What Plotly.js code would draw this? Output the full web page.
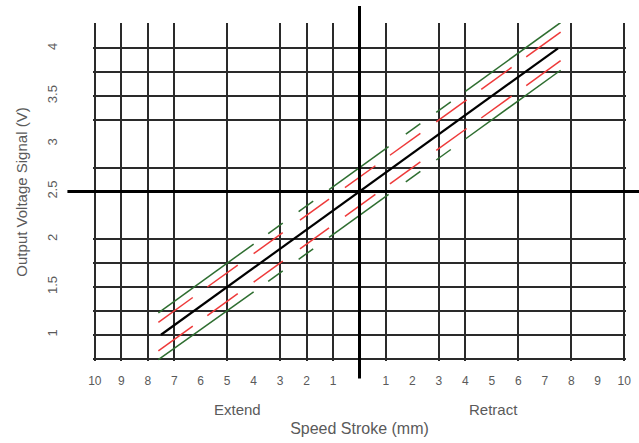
<!DOCTYPE html>
<html>
<head>
<meta charset="utf-8">
<script src="https://cdn.plot.ly/plotly-3.0.1.min.js"></script>
<style>
  html, body { margin: 0; padding: 0; background: #fff; }
  #chart { width: 639px; height: 443px; }
</style>
</head>
<body>
<div id="chart"></div>
<script>
// ---- Data ----
// x tick labels (stroke in mm, absolute value shown on both sides)
const xTickVals = [-10, -9, -8, -7, -6, -5, -4, -3, -2, -1, 1, 2, 3, 4, 5, 6, 7, 8, 9, 10];
const xTickText = ["10", "9", "8", "7", "6", "5", "4", "3", "2", "1", "1", "2", "3", "4", "5", "6", "7", "8", "9", "10"];
// y tick labels (output voltage, V)
const yTickVals = [1, 1.5, 2, 2.5, 3, 3.5, 4];
const yTickText = ["1", "1.5", "2", "2.5", "3", "3.5", "4"];
// grid line positions drawn in the reference
const xGridVals = [-10, -9, -8, -7, -5, -3, -2, -1, 1, 3, 4, 6, 8, 10];
const yGridVals = [0.75, 1, 1.25, 1.5, 1.75, 2, 2.75, 3.25, 3.5, 3.75, 4];
// origin crosshair
const originX = 0;
const originY = 2.5;

// nominal signal (black)
const nominalX = [-7.5, 7.5];
const nominalY = [1.0, 4.0];

// outer tolerance band (green), segments [start, end]
const greenSegX = [[-7.6, -4.0], [-3.45, -2.9], [-2.3, -1.75], [-1.15, 1.1], [1.75, 2.3], [2.9, 3.45], [4.0, 7.6]];
const greenUpperY = [[1.23, 1.95], [2.06, 2.17], [2.29, 2.40], [2.52, 2.97], [3.10, 3.21], [3.33, 3.44], [3.55, 4.27]];
const greenLowerY = [[0.74, 1.45], [1.56, 1.67], [1.79, 1.90], [2.02, 2.47], [2.60, 2.71], [2.83, 2.94], [3.05, 3.77]];

// inner tolerance band (red), segments [start, end]
const redSegX = [[-7.6, -6.3], [-5.75, -4.6], [-4.0, -2.9], [-2.25, -1.15], [-0.55, 0.6], [1.15, 2.3], [2.9, 4.05], [4.6, 5.75], [6.3, 7.6]];
const redUpperY = [[1.13, 1.39], [1.50, 1.73], [1.85, 2.07], [2.20, 2.42], [2.54, 2.77], [2.88, 3.11], [3.23, 3.46], [3.57, 3.80], [3.91, 4.17]];
const redLowerY = [[0.83, 1.09], [1.20, 1.43], [1.55, 1.77], [1.90, 2.12], [2.24, 2.47], [2.58, 2.81], [2.93, 3.16], [3.27, 3.50], [3.61, 3.87]];

// ---- helpers ----
function flattenSegments(segs) {
  const out = [];
  segs.forEach(function (s, i) {
    if (i > 0) out.push(null);
    out.push(s[0], s[1]);
  });
  return out;
}

const GREEN = '#2e6e30';
const RED = '#ee3a3a';
const TEXT = '#5a5a5a';
const GRID = '#2a2a2a';
const FONT = 'Liberation Sans, Arial, sans-serif';

// band traces live on the grid axes (x2/y2, same ranges as x/y), the nominal on x/y
const traces = [
  { x: flattenSegments(greenSegX), y: flattenSegments(greenUpperY), xaxis: 'x2', yaxis: 'y2',
    mode: 'lines', connectgaps: false,
    line: { color: GREEN, width: 1.5 }, hoverinfo: 'skip', showlegend: false },
  { x: flattenSegments(greenSegX), y: flattenSegments(greenLowerY), xaxis: 'x2', yaxis: 'y2',
    mode: 'lines', connectgaps: false,
    line: { color: GREEN, width: 1.5 }, hoverinfo: 'skip', showlegend: false },
  { x: flattenSegments(redSegX), y: flattenSegments(redUpperY), xaxis: 'x2', yaxis: 'y2',
    mode: 'lines', connectgaps: false,
    line: { color: RED, width: 1.5 }, hoverinfo: 'skip', showlegend: false },
  { x: flattenSegments(redSegX), y: flattenSegments(redLowerY), xaxis: 'x2', yaxis: 'y2',
    mode: 'lines', connectgaps: false,
    line: { color: RED, width: 1.5 }, hoverinfo: 'skip', showlegend: false },
  { x: nominalX, y: nominalY, mode: 'lines',
    line: { color: '#000000', width: 2.2 }, hoverinfo: 'skip', showlegend: false }
];

const xRange = [-10.07, 10.07];
const yRange = [0.725, 4.265];

const layout = {
  width: 639, height: 443,
  margin: { l: 93, r: 13, t: 23, b: 82 },
  paper_bgcolor: '#ffffff', plot_bgcolor: '#ffffff',
  showlegend: false,
  font: { family: FONT, color: TEXT, size: 12 },
  xaxis: {
    range: xRange, fixedrange: true,
    tickmode: 'array', tickvals: xTickVals, ticktext: xTickText,
    showgrid: false, zeroline: false, showline: false, ticks: '',
    ticklabelstandoff: 11,
    tickfont: { family: FONT, color: TEXT, size: 12 },
    title: { text: 'Speed Stroke (mm)', font: { family: FONT, color: TEXT, size: 16 }, standoff: 35 }
  },
  yaxis: {
    range: yRange, fixedrange: true,
    tickmode: 'array', tickvals: yTickVals, ticktext: yTickText, tickangle: -90,
    showgrid: false, zeroline: false, showline: false, ticks: '',
    ticklabelstandoff: 32,
    tickfont: { family: FONT, color: TEXT, size: 13 },
    title: { text: 'Output Voltage Signal (V)', font: { family: FONT, color: TEXT, size: 15 }, standoff: 14 }
  },
  xaxis2: {
    range: xRange, overlaying: 'x', anchor: 'y2', fixedrange: true,
    tickmode: 'array', tickvals: xGridVals, showticklabels: false, ticks: '',
    showgrid: true, gridcolor: GRID, gridwidth: 2, zeroline: false, showline: false
  },
  yaxis2: {
    range: yRange, overlaying: 'y', anchor: 'x2', fixedrange: true,
    tickmode: 'array', tickvals: yGridVals, showticklabels: false, ticks: '',
    showgrid: true, gridcolor: GRID, gridwidth: 2, zeroline: false, showline: false
  },
  shapes: [
    { type: 'line', xref: 'x', yref: 'paper', x0: originX, x1: originX, y0: -0.052, y1: 1.05,
      line: { color: '#000', width: 3 }, layer: 'above' },
    { type: 'line', xref: 'paper', yref: 'y', x0: -0.048, x1: 1.03, y0: originY, y1: originY,
      line: { color: '#000', width: 3 }, layer: 'above' }
  ],
  annotations: [
    { text: 'Extend', xref: 'x', yref: 'paper', x: -4.6, y: -0.143, showarrow: false,
      xanchor: 'center', yanchor: 'middle', font: { family: FONT, color: TEXT, size: 15 } },
    { text: 'Retract', xref: 'x', yref: 'paper', x: 5.05, y: -0.143, showarrow: false,
      xanchor: 'center', yanchor: 'middle', font: { family: FONT, color: TEXT, size: 15 } }
  ]
};

Plotly.newPlot('chart', traces, layout, { staticPlot: true, displayModeBar: false });
</script>
</body>
</html>
